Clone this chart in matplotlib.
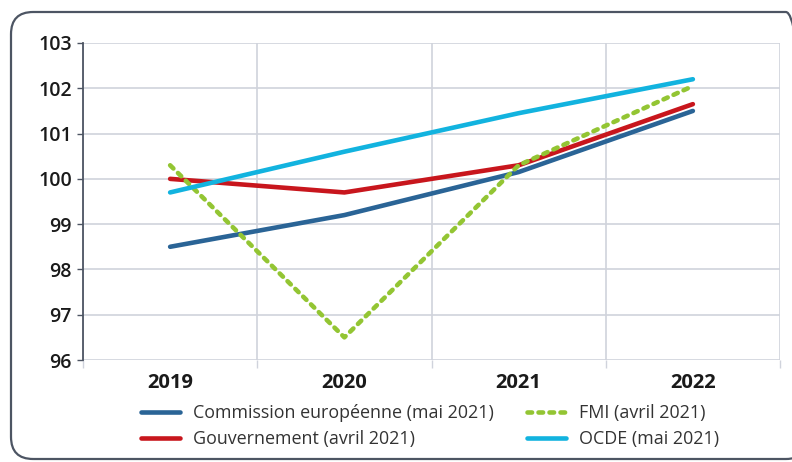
import matplotlib.pyplot as plt
from matplotlib.patches import FancyBboxPatch

years = ['2019', '2020', '2021', '2022']
commission = [98.5, 99.2, 100.15, 101.5]
gouvernement = [100.0, 99.7, 100.3, 101.65]
fmi = [100.3, 96.5, 100.3, 102.05]
ocde = [99.7, 100.6, 101.45, 102.2]
yticks = [96, 97, 98, 99, 100, 101, 102, 103]

plt.rcParams['font.family'] = ['Open Sans', 'DejaVu Sans']

fig = plt.figure(figsize=(7.92, 4.62), dpi=100)
ax = fig.add_axes([83 / 792, 1 - 360 / 462, 697 / 792, 317 / 462])

# rounded frame around the whole chart
frame = FancyBboxPatch((11 / 792, 3 / 462), 797 / 792, 447 / 462,
                       boxstyle='round,pad=0,rounding_size=0.028',
                       transform=fig.transFigure, fill=False,
                       edgecolor='#4d5563', linewidth=1.6, clip_on=False,
                       mutation_aspect=792 / 462)
fig.patches.append(frame)

x = range(len(years))
lw = 3.3
ax.plot(x, commission, color='#2a6496', lw=lw, solid_capstyle='round',
        label='Commission européenne (mai 2021)', zorder=3)
ax.plot(x, gouvernement, color='#c8161d', lw=lw, solid_capstyle='round',
        label='Gouvernement (avril 2021)', zorder=3)
ax.plot(x, fmi, color='#93c533', lw=lw, dashes=(1.0, 1.4),
        dash_capstyle='round', label='FMI (avril 2021)', zorder=3)
ax.plot(x, ocde, color='#12b3df', lw=lw, solid_capstyle='round',
        label='OCDE (mai 2021)', zorder=3)

ax.set_xlim(-0.5, len(years) - 0.5)
ax.set_ylim(96, 103)
ax.set_yticks(yticks)
ax.set_yticklabels([str(v) for v in yticks], fontsize=14,
                   fontweight='semibold', color='#1a1a1a')
ax.set_xticks([i - 0.5 for i in range(len(years) + 1)])
ax.set_xticklabels([])
ax.set_xticks(list(x), minor=True)
ax.set_xticklabels(years, minor=True, fontsize=14.5, fontweight='bold',
                   color='#1a1a1a')
ax.tick_params(axis='x', which='minor', length=0, pad=9)
ax.tick_params(axis='x', which='major', length=6, color='#d0d3dc', width=1)
ax.tick_params(axis='y', length=4, color='#4d5563', width=1, pad=4)

ax.grid(True, which='major', color='#d0d3dc', lw=1.2)
for s in ['top', 'right', 'bottom']:
    ax.spines[s].set_visible(False)
ax.spines['left'].set_color('#4d5563')
ax.spines['left'].set_linewidth(1.3)
ax.spines['left'].set_zorder(4)

fig.legend(loc='center', bbox_to_anchor=(430 / 792, 1 - 426 / 462), ncol=2,
           frameon=False, fontsize=12.9, handlelength=2.2, handletextpad=0.75,
           columnspacing=1.8, labelspacing=0.45, labelcolor='#333333')

fig.savefig('out.png', dpi=100)
